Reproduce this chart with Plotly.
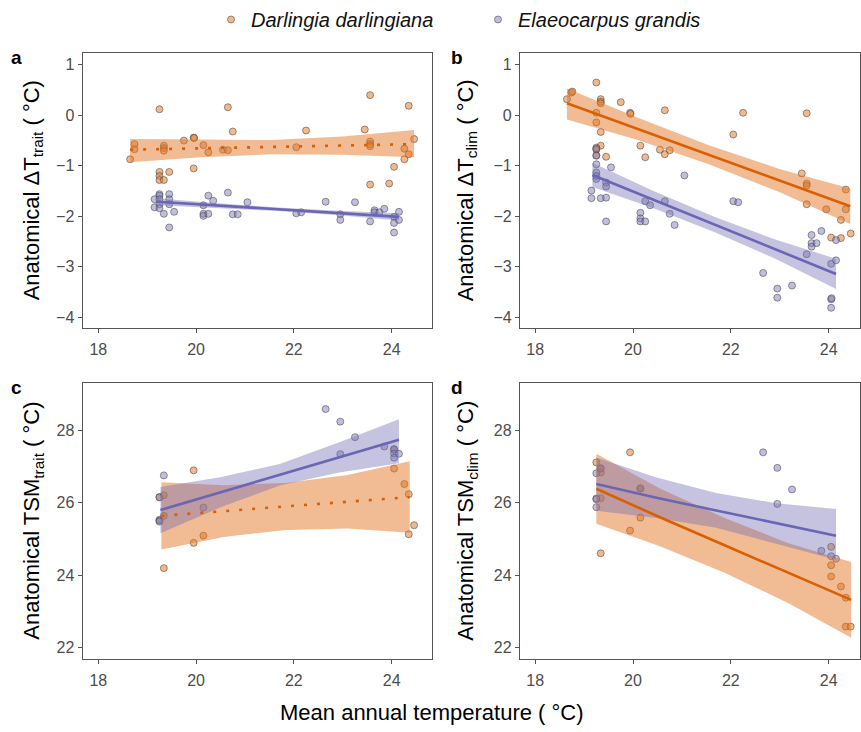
import plotly.graph_objects as go

# ---------------- data ----------------
species = ["Darlingia darlingiana", "Elaeocarpus grandis"]

# panel a: anatomical dT_trait
a_or_x = [18.65, 18.74, 18.74, 19.25, 19.34, 19.34, 19.34, 19.25, 19.25, 19.25, 19.34, 19.45, 19.75, 19.95, 19.96,
          19.95, 20.15, 20.25, 20.55, 20.65, 20.65, 20.75, 22.05, 22.25, 23.45, 23.56, 23.56, 23.56, 23.56, 23.56,
          23.95, 24.05, 24.26, 24.26, 24.35, 24.35, 24.46]
a_or_y = [-0.87, -0.57, -0.67, 0.12, -0.60, -0.65, -0.70, -1.12, -1.20, -1.28, -1.28, -1.12, -0.50, -0.44, -0.45,
          -1.05, -0.59, -0.73, -0.68, 0.16, -0.69, -0.32, -0.63, -0.30, -0.28, 0.40, -0.52, -0.57, -0.61, -1.37,
          -1.35, -1.02, -0.66, -0.87, 0.19, -0.77, -0.47]
a_pu_x = [19.15, 19.15, 19.25, 19.25, 19.25, 19.25, 19.25, 19.34, 19.45, 19.45, 19.45, 19.45, 19.55, 20.15, 20.15,
          20.15, 20.25, 20.25, 20.35, 20.65, 20.75, 20.85, 21.05, 22.05, 22.15, 22.65, 22.95, 22.95, 23.25, 23.56,
          23.65, 23.65, 23.75, 23.85, 24.05, 24.05, 24.05, 24.15, 24.15]
a_pu_y = [-1.66, -1.82, -1.56, -1.59, -1.66, -1.76, -1.84, -1.95, -1.56, -1.66, -1.76, -2.22, -1.91, -1.78, -1.95,
          -1.99, -1.95, -1.59, -1.69, -1.53, -1.96, -1.96, -1.72, -1.94, -1.92, -1.71, -1.96, -2.07, -1.72, -2.10,
          -1.88, -1.92, -1.92, -1.85, -2.01, -2.13, -2.32, -1.91, -2.07]
a_or_fx = [18.65, 20.10, 21.55, 23.00, 24.46]
a_or_fit = [-0.68, -0.655, -0.625, -0.597, -0.57]
a_or_lo = [-0.93, -0.83, -0.77, -0.78, -0.83]
a_or_hi = [-0.47, -0.48, -0.49, -0.42, -0.29]
a_pu_fx = [19.20, 20.44, 21.68, 22.91, 24.15]
a_pu_fit = [-1.71, -1.785, -1.86, -1.935, -2.01]
a_pu_lo = [-1.78, -1.83, -1.895, -1.98, -2.08]
a_pu_hi = [-1.64, -1.74, -1.825, -1.89, -1.94]

# panel b: anatomical dT_clim
b_or_x = [18.65, 18.74, 18.76, 19.25, 19.34, 19.34, 19.34, 19.25, 19.25, 19.34, 19.34, 19.25, 19.25, 19.25, 19.45,
          19.75, 19.94, 19.95, 20.15, 20.25, 20.55, 20.65, 20.65, 20.75, 22.05, 22.25, 23.45, 23.55, 23.55, 23.55,
          23.55, 23.95, 24.05, 24.25, 24.25, 24.35, 24.35, 24.45]
b_or_y = [0.32, 0.45, 0.47, 0.65, 0.32, 0.27, 0.24, 0.05, -0.14, -0.33, -0.60, -0.64, -0.68, -0.79, -0.82,
          0.26, 0.05, 0.03, -0.60, -0.83, -0.68, 0.10, -0.77, -0.69, -0.38, 0.05, -1.15, 0.04, -1.35, -1.39,
          -1.76, -1.86, -2.42, -2.07, -2.43, -1.47, -1.86, -2.34]
b_pu_x = [19.15, 19.15, 19.25, 19.25, 19.25, 19.25, 19.25, 19.25, 19.34, 19.45, 19.45, 19.45, 19.45, 19.55, 20.15,
          20.15, 20.15, 20.25, 20.25, 20.35, 20.65, 20.75, 20.85, 21.05, 22.05, 22.15, 22.66, 22.95, 22.95, 23.25,
          23.55, 23.65, 23.65, 23.65, 23.75, 23.85, 24.05, 24.05, 24.06, 24.05, 24.15, 24.15]
b_pu_y = [-1.49, -1.64, -0.97, -1.13, -1.20, -1.26, -0.66, -0.80, -1.64, -1.33, -1.41, -1.63, -2.10, -1.03, -1.93,
          -2.04, -2.10, -2.10, -1.70, -1.78, -1.70, -1.95, -2.17, -1.19, -1.70, -1.72, -3.12, -3.43, -3.61, -3.37,
          -2.75, -2.37, -2.53, -2.60, -2.53, -2.29, -2.94, -3.64, -3.62, -3.81, -2.47, -2.87]
b_or_fx = [18.65, 20.10, 21.55, 22.99, 24.44]
b_or_fit = [0.24, -0.27, -0.78, -1.29, -1.80]
b_or_lo = [-0.08, -0.49, -0.97, -1.52, -2.15]
b_or_hi = [0.53, -0.05, -0.59, -1.06, -1.45]
b_pu_fx = [19.17, 20.42, 21.66, 22.91, 24.15]
b_pu_fit = [-1.18, -1.67, -2.16, -2.65, -3.14]
b_pu_lo = [-1.42, -1.84, -2.31, -2.84, -3.44]
b_pu_hi = [-0.94, -1.50, -2.01, -2.46, -2.84]

# panel c: anatomical TSM_trait
c_or_x = [19.25, 19.25, 19.34, 19.34, 19.34, 19.95, 19.95, 20.15, 24.05, 24.05, 24.26, 24.35, 24.35, 24.46]
c_or_y = [26.16, 25.53, 26.21, 25.64, 24.19, 26.90, 24.89, 25.09, 26.95, 27.47, 26.52, 26.24, 25.13, 25.38]
c_pu_x = [19.25, 19.25, 19.25, 19.34, 20.15, 22.65, 22.95, 22.95, 23.25, 23.85, 24.05, 24.05, 24.05, 24.15]
c_pu_y = [26.15, 25.51, 25.48, 26.76, 25.87, 28.60, 28.25, 27.35, 27.82, 27.56, 27.49, 27.37, 27.25, 27.36]
c_or_fx = [19.29, 20.56, 21.83, 23.10, 24.37]
c_or_fit = [25.64, 25.77, 25.90, 26.03, 26.16]
c_or_lo = [24.71, 25.05, 25.25, 25.29, 25.17]
c_or_hi = [26.57, 26.49, 26.55, 26.77, 27.15]
c_pu_fx = [19.27, 20.49, 21.71, 22.93, 24.15]
c_pu_fit = [25.80, 26.29, 26.78, 27.26, 27.75]
c_pu_lo = [25.16, 25.87, 26.48, 26.84, 27.10]
c_pu_hi = [26.44, 26.71, 27.08, 27.68, 28.32]

# panel d: anatomical TSM_clim
d_or_x = [19.25, 19.34, 19.34, 19.34, 19.34, 19.94, 19.94, 20.15, 20.15, 24.05, 24.05, 24.05, 24.25, 24.35, 24.35, 24.45]
d_or_y = [27.12, 26.96, 26.84, 26.13, 24.60, 27.40, 25.23, 26.40, 25.59, 24.78, 24.27, 23.96, 23.68, 23.37, 22.57, 22.57]
d_pu_x = [19.25, 19.25, 19.25, 19.25, 19.34, 20.15, 22.66, 22.95, 22.95, 23.25, 23.85, 24.05, 24.15]
d_pu_y = [26.82, 26.12, 26.10, 25.88, 26.95, 26.40, 27.40, 26.97, 25.97, 26.37, 24.67, 24.52, 24.45]
d_or_fx = [19.25, 20.55, 21.86, 23.16, 24.46]
d_or_fit = [26.39, 25.60, 24.83, 24.06, 23.31]
d_or_lo = [25.42, 24.80, 24.07, 23.23, 22.26]
d_or_hi = [27.36, 26.40, 25.59, 24.89, 24.36]
d_pu_fx = [19.25, 20.48, 21.70, 22.93, 24.15]
d_pu_fit = [26.52, 26.14, 25.79, 25.43, 25.09]
d_pu_lo = [25.78, 25.58, 25.31, 24.87, 24.42]
d_pu_hi = [27.26, 26.70, 26.27, 25.99, 25.83]

x_ticks = [18, 20, 22, 24]
y_ticks_top = [-4, -3, -2, -1, 0, 1]
y_ticks_bot = [22, 24, 26, 28]
panel_letters = ["a", "b", "c", "d"]
y_titles = ["Anatomical ΔT<sub>trait</sub> ( °C)", "Anatomical ΔT<sub>clim</sub> ( °C)",
            "Anatomical TSM<sub>trait</sub> ( °C)", "Anatomical TSM<sub>clim</sub> ( °C)"]
x_title = "Mean annual temperature ( °C)"

# ---------------- styles ----------------
W, H = 861, 732
OR_LINE = "#D95F02"
PU_LINE = "#6A65B5"
OR_PT = "rgba(230,125,45,0.55)"
PU_PT = "rgba(130,125,190,0.5)"
OR_RIB = "rgba(228,120,40,0.5)"
PU_RIB = "rgba(117,112,179,0.42)"
PT_EDGE = "rgba(70,70,70,0.55)"
FONT = "Liberation Sans, Arial, sans-serif"

# panel pixel boxes: (left, right, top, bottom)
boxes = [(82.7, 431.7, 52.7, 328.0), (520.0, 860.0, 52.7, 328.0),
         (82.7, 431.7, 382.7, 658.7), (520.0, 860.0, 382.7, 658.7)]
x_ranges = [[17.68, 24.82], [17.69, 24.64], [17.68, 24.82], [17.69, 24.64]]
y_ranges = [[-4.21, 1.24], [-4.21, 1.24], [21.68, 29.33], [21.68, 29.33]]

fig = go.Figure()

panels = [
    (a_or_x, a_or_y, a_pu_x, a_pu_y, a_or_fx, a_or_fit, a_or_lo, a_or_hi, a_pu_fx, a_pu_fit, a_pu_lo, a_pu_hi, "dot"),
    (b_or_x, b_or_y, b_pu_x, b_pu_y, b_or_fx, b_or_fit, b_or_lo, b_or_hi, b_pu_fx, b_pu_fit, b_pu_lo, b_pu_hi, "solid"),
    (c_or_x, c_or_y, c_pu_x, c_pu_y, c_or_fx, c_or_fit, c_or_lo, c_or_hi, c_pu_fx, c_pu_fit, c_pu_lo, c_pu_hi, "dot"),
    (d_or_x, d_or_y, d_pu_x, d_pu_y, d_or_fx, d_or_fit, d_or_lo, d_or_hi, d_pu_fx, d_pu_fit, d_pu_lo, d_pu_hi, "solid"),
]

for i, (ox, oy, px, py, ofx, ofit, olo, ohi, pfx, pfit, plo, phi, odash) in enumerate(panels):
    xa = "x" if i == 0 else f"x{i+1}"
    ya = "y" if i == 0 else f"y{i+1}"
    # points
    fig.add_trace(go.Scatter(x=ox, y=oy, mode="markers", xaxis=xa, yaxis=ya, name="<i>" + species[0] + "</i>",
                             legendgroup="or", showlegend=(i == 0),
                             marker=dict(size=7, color=OR_PT, line=dict(color=PT_EDGE, width=1))))
    fig.add_trace(go.Scatter(x=px, y=py, mode="markers", xaxis=xa, yaxis=ya, name="<i>" + species[1] + "</i>",
                             legendgroup="pu", showlegend=(i == 0),
                             marker=dict(size=7, color=PU_PT, line=dict(color=PT_EDGE, width=1))))
    # ribbons
    fig.add_trace(go.Scatter(x=ofx + ofx[::-1], y=olo + ohi[::-1], mode="lines", fill="toself",
                             fillcolor=OR_RIB, line=dict(width=0), xaxis=xa, yaxis=ya,
                             showlegend=False, hoverinfo="skip"))
    fig.add_trace(go.Scatter(x=pfx + pfx[::-1], y=plo + phi[::-1], mode="lines", fill="toself",
                             fillcolor=PU_RIB, line=dict(width=0), xaxis=xa, yaxis=ya,
                             showlegend=False, hoverinfo="skip"))
    # fitted lines
    fig.add_trace(go.Scatter(x=ofx, y=ofit, mode="lines", xaxis=xa, yaxis=ya, showlegend=False,
                             line=dict(color=OR_LINE, width=2.6,
                                       dash="3px,10px" if odash == "dot" else "solid")))
    fig.add_trace(go.Scatter(x=pfx, y=pfit, mode="lines", xaxis=xa, yaxis=ya, showlegend=False,
                             line=dict(color=PU_LINE, width=2.6)))

axis_common = dict(showline=True, mirror=True, linecolor="#555555", linewidth=1.3, ticks="outside",
                   ticklen=4, tickwidth=1.2, tickcolor="#555555", showgrid=False, zeroline=False,
                   tickfont=dict(family=FONT, size=16, color="#4D4D4D"))

layout = dict(width=W, height=H, margin=dict(l=0, r=0, t=0, b=0), plot_bgcolor="white",
              paper_bgcolor="white", font=dict(family=FONT),
              legend=dict(orientation="h", x=211 / W, xanchor="left", y=1.0, yanchor="top",
                          font=dict(family=FONT, size=20, color="#111111"), itemwidth=30,
                          entrywidth=222, entrywidthmode="pixels",
                          bgcolor="rgba(0,0,0,0)"))
annotations = []
for i, (l, r, t, b) in enumerate(boxes):
    sfx = "" if i == 0 else str(i + 1)
    layout["xaxis" + sfx] = dict(axis_common, domain=[l / W, r / W], range=x_ranges[i], tickvals=x_ticks,
                                 anchor="y" + sfx, ticklabelstandoff=3)
    layout["yaxis" + sfx] = dict(axis_common, domain=[1 - b / H, 1 - t / H], range=y_ranges[i],
                                 tickvals=y_ticks_top if i < 2 else y_ticks_bot, anchor="x" + sfx)
    title_x = 33 if i % 2 == 0 else 467
    annotations.append(dict(text=y_titles[i], xref="paper", yref="paper", x=title_x / W,
                            y=1 - ((t + b) / 2) / H, textangle=-90, showarrow=False,
                            xanchor="center", yanchor="middle",
                            font=dict(family=FONT, size=22, color="black")))
    letter_x = 16 if i % 2 == 0 else 457
    annotations.append(dict(text="<b>" + panel_letters[i] + "</b>", xref="paper", yref="paper",
                            x=letter_x / W, y=1 - (t + 5) / H, showarrow=False, xanchor="center",
                            yanchor="middle", font=dict(family=FONT, size=19, color="black")))
annotations.append(dict(text=x_title, xref="paper", yref="paper", x=432 / W, y=1 - 712 / H,
                        showarrow=False, xanchor="center", yanchor="middle",
                        font=dict(family=FONT, size=22, color="black")))
layout["annotations"] = annotations
fig.update_layout(**layout)

fig.write_html("out.html")
